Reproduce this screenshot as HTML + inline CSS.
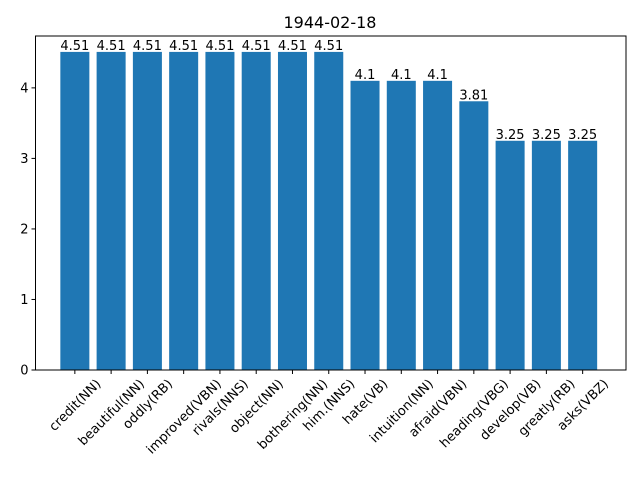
<!DOCTYPE html>
<html><head><meta charset="utf-8"><style>body{margin:0;background:#fff}svg{display:block;font-family:"DejaVu Sans","Liberation Sans",sans-serif}</style></head>
<body>
<svg id="chart" width="640" height="480">
<rect width="640" height="480" fill="#fff"/>
<text x="330" y="28" text-anchor="middle" font-size="16">1944-02-18</text>
<g id="plot"></g>
<rect x="35.5" y="36" width="590.5" height="334" fill="none" stroke="#000" stroke-width="1"/>
</svg>
<script>
const categories = ["credit(NN)","beautiful(NN)","oddly(RB)","improved(VBN)","rivals(NNS)","object(NN)","bothering(NN)","him.(NNS)","hate(VB)","intuition(NN)","afraid(VBN)","heading(VBG)","develop(VB)","greatly(RB)","asks(VBZ)"];
const values = [4.51,4.51,4.51,4.51,4.51,4.51,4.51,4.51,4.1,4.1,4.1,3.81,3.25,3.25,3.25];
const valueLabels = ["4.51","4.51","4.51","4.51","4.51","4.51","4.51","4.51","4.1","4.1","4.1","3.81","3.25","3.25","3.25"];
const yTicks = [0,1,2,3,4];
const NS="http://www.w3.org/2000/svg";
const L=35.5,R=626,T=36,B=370;
const n=categories.length;
const xmin=-0.4-0.05*(n-1+0.8), xmax=n-1+0.4+0.05*(n-1+0.8);
const ymax=Math.max(...values)*1.05;
const xs=v=>L-2+(v-xmin)/(xmax-xmin)*(R-L);
const ys=v=>B-v/ymax*(B-T);
const g=document.getElementById('plot');
function mk(t,a){const e=document.createElementNS(NS,t);for(const k in a)e.setAttribute(k,a[k]);g.appendChild(e);return e;}
values.forEach((v,i)=>{
  const x0=xs(i-0.4),x1=xs(i+0.4);
  const r=mk('rect',{x:x0,y:ys(v),width:x1-x0,height:B-ys(v),fill:'#1f77b4'});
  
  
  const t=mk('text',{x:xs(i),y:ys(v)-2,'text-anchor':'middle','font-size':'13'});
  t.textContent=valueLabels[i];
  
  
  const tk=mk('line',{x1:xs(i),x2:xs(i),y1:B,y2:B+4,stroke:'#000'});
  
  
  const lb=mk('text',{x:0,y:0,'text-anchor':'middle','font-size':'13'});
  lb.textContent=categories[i];
  
  
  const bb=lb.getBBox();
  const w=bb.width,h=bb.height,c=Math.SQRT1_2;
  const bw=(w+h)*c; // rotated bbox size
  const cx=xs(i), cy=B+6+bw/2;
  lb.setAttribute('y',bb.height*0.3);
  lb.setAttribute('transform',`translate(${cx} ${cy}) rotate(-45)`);
});
yTicks.forEach(v=>{
  const y=ys(v);
  const tk=mk('line',{x1:L-4,x2:L,y1:y,y2:y,stroke:'#000'});
  
  
  const t=mk('text',{x:L-7,y:y+4.5,'text-anchor':'end','font-size':'13'});
  t.textContent=v;
  
  
});
</script>
</body></html>
